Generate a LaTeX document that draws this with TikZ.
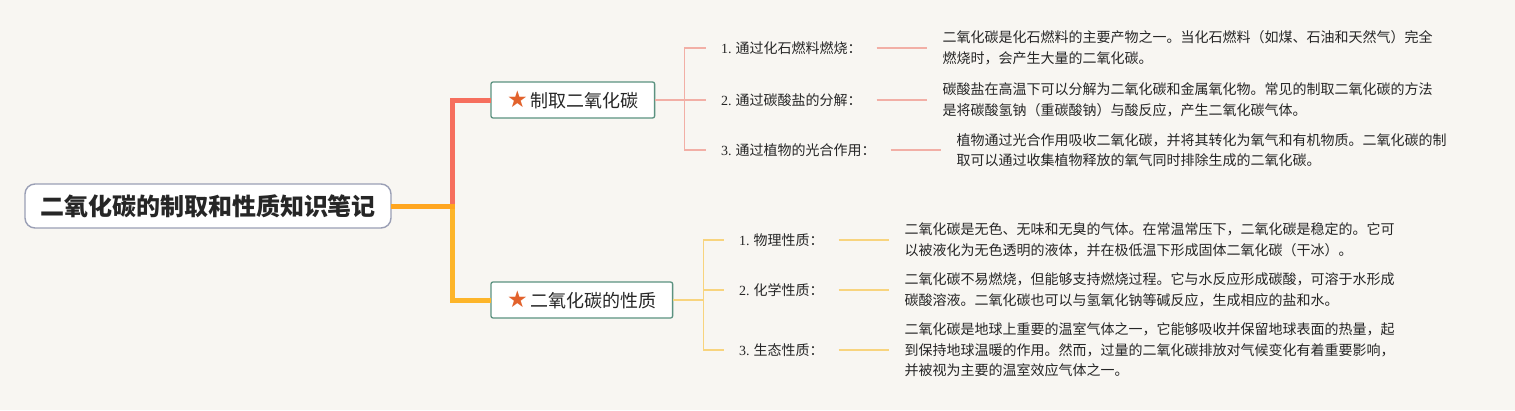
\documentclass[tikz,border=0pt]{standalone}
\usepackage{fontspec}
\setmainfont{Noto Sans CJK SC}
\newfontfamily\starfont{DejaVu Sans}
\newfontfamily\numfont{Liberation Serif}
\usetikzlibrary{
positioning,
}
\definecolor{bgcol}{HTML}{F8F6F2}
\definecolor{rootline}{HTML}{9A9FB5}
\definecolor{rootorange}{HTML}{FFA620}
\definecolor{redtrunk}{HTML}{F66F5E}
\definecolor{yellowtrunk}{HTML}{FDB52A}
\definecolor{topicline}{HTML}{5B9280}
\definecolor{redtwig}{HTML}{F2AFA6}
\definecolor{yellowtwig}{HTML}{F8D47E}
\definecolor{starcol}{HTML}{E2622C}
\definecolor{txt}{HTML}{262626}
\newcommand{\topicstar}{{\starfont\fontsize{23}{23}\selectfont\color{starcol}★}\hspace{3pt}}
\tikzset{
node distance=81pt,
every node/.style={inner sep=0pt, outer sep=0pt, text=txt},
root/.style={draw=rootline, fill=white, line width=1.4pt, rounded corners=10pt,
  minimum width=366pt, minimum height=44pt, font=\fontsize{24}{28}\selectfont\bfseries},
topic/.style={draw=topicline, fill=white, line width=1.3pt, rounded corners=2pt,
  anchor=west, inner xsep=16pt, minimum height=36pt, font=\fontsize{18}{22}\selectfont},
item/.style={anchor=west, font=\fontsize{14}{18}\selectfont},
note/.style={anchor=west, align=left, font=\fontsize{14}{20.5}\selectfont},
trunk/.style={line width=5pt},
twig/.style={line width=1.3pt},
}
\begin{document}
\begin{tikzpicture}[x=1pt, y=-1pt]
\fill [bgcol] (0,0) rectangle (1515,410);
\node (root) [root] at (208,206) {二氧化碳的制取和性质知识笔记};
\node (make) [topic] at (491,100) {\topicstar 制取二氧化碳};
\node (prop) [topic] at (491,300) {\topicstar 二氧化碳的性质};
% making
\node (mk1) [item] at (721,48) {{\numfont 1.} 通过化石燃料燃烧：};
\node (mk2) [item] at (721,100) {{\numfont 2.} 通过碳酸盐的分解：};
\node (mk3) [item] at (721,150) {{\numfont 3.} 通过植物的光合作用：};
\node (mkn1) [note, right=of mk1] {二氧化碳是化石燃料的主要产物之一。当化石燃料（如煤、石油和天然气）完全\\燃烧时，会产生大量的二氧化碳。};
\node (mkn2) [note, right=of mk2] {碳酸盐在高温下可以分解为二氧化碳和金属氧化物。常见的制取二氧化碳的方法\\是将碳酸氢钠（重碳酸钠）与酸反应，产生二氧化碳气体。};
\node (mkn3) [note, right=of mk3] {植物通过光合作用吸收二氧化碳，并将其转化为氧气和有机物质。二氧化碳的制\\取可以通过收集植物释放的氧气同时排除生成的二氧化碳。};
% properties
\node (pr1) [item] at (739,240) {{\numfont 1.} 物理性质：};
\node (pr2) [item] at (739,290) {{\numfont 2.} 化学性质：};
\node (pr3) [item] at (739,350) {{\numfont 3.} 生态性质：};
\node (prn1) [note, right=of pr1] {二氧化碳是无色、无味和无臭的气体。在常温常压下，二氧化碳是稳定的。它可\\以被液化为无色透明的液体，并在极低温下形成固体二氧化碳（干冰）。};
\node (prn2) [note, right=of pr2] {二氧化碳不易燃烧，但能够支持燃烧过程。它与水反应形成碳酸，可溶于水形成\\碳酸溶液。二氧化碳也可以与氢氧化钠等碱反应，生成相应的盐和水。};
\node (prn3) [note, right=of pr3] {二氧化碳是地球上重要的温室气体之一，它能够吸收并保留地球表面的热量，起\\到保持地球温暖的作用。然而，过量的二氧化碳排放对气候变化有着重要影响，\\并被视为主要的温室效应气体之一。};
\coordinate (fork) at (452,206);
% trunks
\draw [trunk, redtrunk] (fork) |- (make.west);
\draw [trunk, yellowtrunk] (fork) |- (prop.west);
\draw [trunk, rootorange] (root.east) -- ([xshift=2.5pt]fork);
% twigs
\draw [twig, redtwig] (make.east) -- ++(30pt,0) coordinate (mkfork);
\draw [twig, redtwig] (mkfork) |- ([xshift=-15pt]mk1.west);
\draw [twig, redtwig] (mkfork) -- ([xshift=-15pt]mk2.west);
\draw [twig, redtwig] (mkfork) |- ([xshift=-15pt]mk3.west);
\draw [twig, redtwig] ([xshift=15pt]mk1.east) -- ([xshift=-16pt]mkn1.west);
\draw [twig, redtwig] ([xshift=15pt]mk2.east) -- ([xshift=-16pt]mkn2.west);
\draw [twig, redtwig] ([xshift=15pt]mk3.east) -- ([xshift=-16pt]mkn3.west);
\draw [twig, yellowtwig] (prop.east) -- ++(31pt,0) coordinate (prfork);
\draw [twig, yellowtwig] (prfork) |- ([xshift=-15pt]pr1.west);
\draw [twig, yellowtwig] (prfork) |- ([xshift=-15pt]pr2.west);
\draw [twig, yellowtwig] (prfork) |- ([xshift=-15pt]pr3.west);
\draw [twig, yellowtwig] ([xshift=15pt]pr1.east) -- ([xshift=-16pt]prn1.west);
\draw [twig, yellowtwig] ([xshift=15pt]pr2.east) -- ([xshift=-16pt]prn2.west);
\draw [twig, yellowtwig] ([xshift=15pt]pr3.east) -- ([xshift=-16pt]prn3.west);
\end{tikzpicture}
\end{document}
